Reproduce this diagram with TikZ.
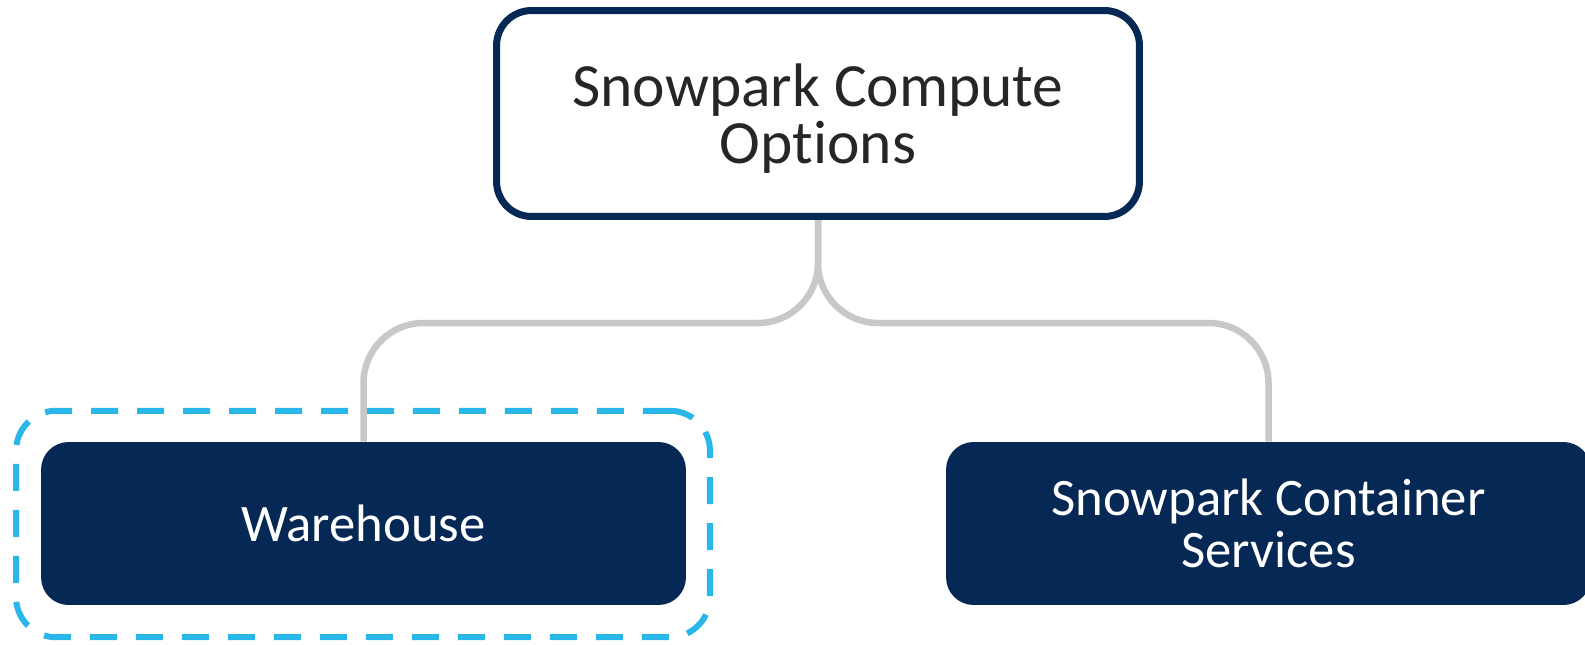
\documentclass[tikz,border=0pt]{standalone}
\usepackage{fontspec}
\setmainfont[Ligatures={NoCommon}]{Carlito}
\usetikzlibrary{backgrounds}
\definecolor{navy}{RGB}{5,40,84}
\definecolor{skyline}{RGB}{41,182,232}
\definecolor{linkgray}{RGB}{200,200,200}
\definecolor{inkgray}{RGB}{38,38,38}
\tikzset{
  rootbox/.style={draw=navy, line width=0.14cm, fill=white, rounded corners=0.7cm,
    minimum width=12.86cm, minimum height=4.12cm, align=center, text=inkgray,
    text depth=0pt, font=\fontsize{35}{32.4}\selectfont},
  optbox/.style={fill=navy, rounded corners=0.55cm, minimum width=12.9cm,
    minimum height=3.26cm, align=center, text=white,
    font=\fontsize{30}{29.5}\selectfont},
  pick/.style={draw=skyline, line width=0.12cm, dash pattern=on 0.54cm off 0.38cm,
    rounded corners=0.8cm, minimum width=13.88cm, minimum height=4.53cm},
  link/.style={draw=linkgray, line width=0.13cm, rounded corners=1.2cm},
}
\begin{document}
\begin{tikzpicture}[x=0.02cm, y=-0.02cm]
  \useasboundingbox (0,0) rectangle (1585,645);
  \draw
    (818,113.5) node[rootbox] (root){Snowpark Compute\\Options}
    (363.5,523.5) node[optbox] (wh){Warehouse}
    (1268.5,523.5) node[optbox] (spcs){Snowpark Container\\Services};
  \begin{scope}[on background layer]
    \node[pick] (sel) at (363,524) {};
    \coordinate (fork) at (818,323);
    \draw[link] (root.south) -- (fork) -| (wh.north);
    \draw[link] (root.south) -- (fork) -| (spcs.north);
  \end{scope}
\end{tikzpicture}
\end{document}
